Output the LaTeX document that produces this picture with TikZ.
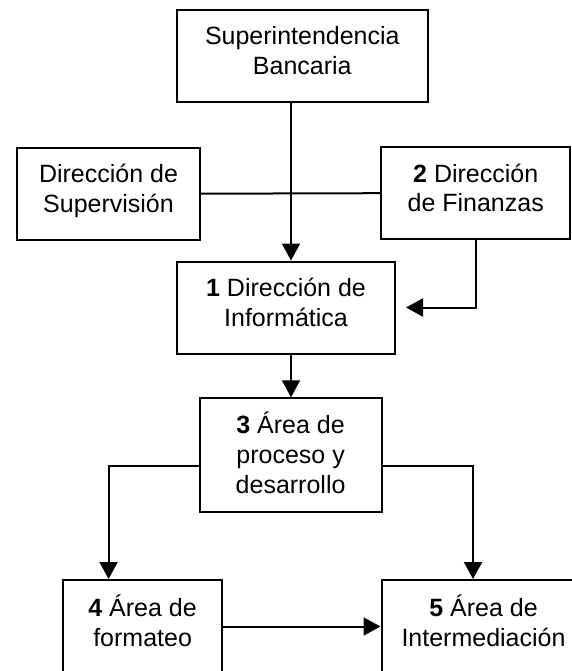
\documentclass[tikz,border=0pt]{standalone}
\usepackage{fontspec}
\setmainfont{Liberation Sans}
\usetikzlibrary{arrows.meta}

\begin{document}
\begin{tikzpicture}[x=1pt,y=-1pt,line width=2pt,
        caja/.style={draw,align=center,inner sep=4pt,text depth=11pt,font=\fontsize{25}{29.7}\selectfont},
        flecha/.style={-{Triangle[length=17pt,width=18pt]}}]
        \useasboundingbox (0,0) rectangle (572,671);
        \clip (0,0) rectangle (572,671);
        \def\alto{92pt}

        \node[caja,minimum width=250.6pt,minimum height=\alto] (banca) at (302.3,55.9) {Superintendencia\\Bancaria};
        \node[caja,minimum width=183pt,minimum height=\alto] (superv) at (108.5,193.7) {Dirección de\\Supervisión};
        \node[caja,minimum width=188.7pt,minimum height=\alto] (finan) at (475.7,193.2) {\textbf{2} Dirección\\de Finanzas};
        \node[caja,minimum width=218pt,minimum height=\alto] (info) at (286,307.5) {\textbf{1} Dirección de\\Informática};
        \node[caja,text depth=5pt,minimum width=182pt,minimum height=114pt] (proceso) at (290.6,455.3) {\textbf{3} Área de\\proceso y\\desarrollo};
        \node[caja,minimum width=159.7pt,minimum height=93pt] (formato) at (142.6,626.5) {\textbf{4} Área de\\formateo};
        \node[caja,minimum width=204pt,minimum height=93pt] (interm) at (483.5,626.5) {\textbf{5} Área de\\Intermediación};

        \coordinate (eje) at (291,0);
        \draw (superv.east) -- (finan.west);
        \draw[flecha] (banca.south -| eje) -- (info.north -| eje);
        \draw[flecha] (finan.south) |- ([xshift=10pt]info.east);
        \draw[flecha] (info.south -| eje) -- (proceso.north -| eje);
        \draw[flecha] ([yshift=-11pt]proceso.west) -| ([xshift=-34pt]formato.north);
        \draw[flecha] ([yshift=-11pt]proceso.east) -| ([xshift=-10.5pt]interm.north);
        \draw[flecha] (formato.east) -- (interm.west);
      \end{tikzpicture}
\end{document}
